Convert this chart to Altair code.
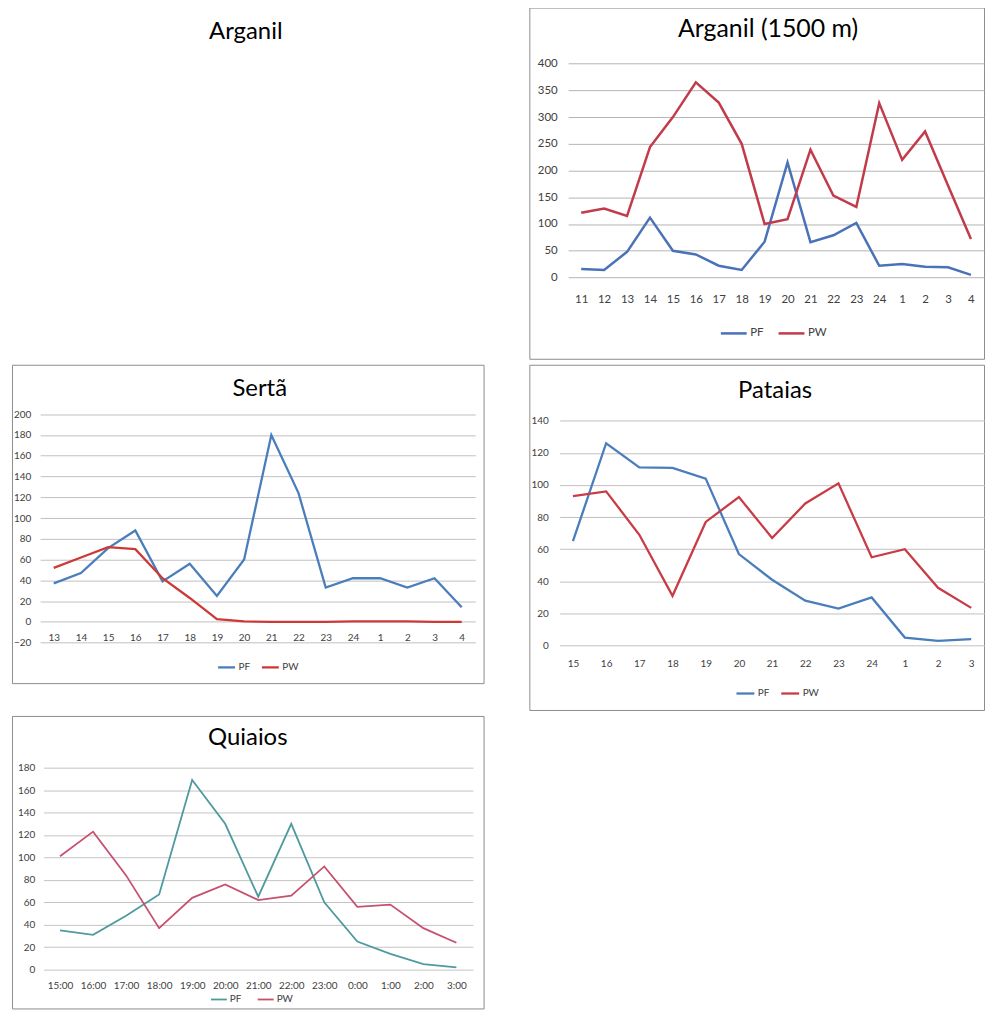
import altair as alt
import pandas as pd

# ---------------- data ----------------
arg_hours = ["11", "12", "13", "14", "15", "16", "17", "18", "19", "20", "21", "22", "23", "24", "1", "2", "3", "4"]
arg_pf = [16, 14, 48, 112, 50, 43, 22, 14, 67, 215, 66, 79, 102, 22, 25, 20, 19, 5]
arg_pw = [121, 129, 115, 244, 300, 365, 327, 250, 100, 109, 239, 153, 132, 326, 220, 273, 172, 72]

ser_hours = ["13", "14", "15", "16", "17", "18", "19", "20", "21", "22", "23", "24", "1", "2", "3", "4"]
ser_pf = [37, 47, 71, 88, 39, 56, 25, 60, 180, 124, 33, 42, 42, 33, 42, 14]
ser_pw = [52, 62, 72, 70, 42, 23, 2.5, 0.5, 0, 0, 0, 0.5, 0.5, 0.5, 0, 0]

pat_hours = ["15", "16", "17", "18", "19", "20", "21", "22", "23", "24", "1", "2", "3"]
pat_pf = [65, 126, 111, 110.7, 104, 57, 41, 28, 23, 30, 5, 3, 4]
pat_pw = [93, 96, 69, 31, 77, 92.5, 67, 88.5, 101, 55, 60, 36, 23.5]

qui_hours = ["15:00", "16:00", "17:00", "18:00", "19:00", "20:00", "21:00", "22:00", "23:00", "0:00", "1:00", "2:00", "3:00"]
qui_pf = [35, 31, 48, 67, 169, 130, 65, 130, 60, 25, 14, 5, 2]
qui_pw = [101, 123, 84, 37, 64, 76, 62, 66, 92, 56, 58, 37, 24]

series_names = ["PF", "PW"]

TITLE_FONT = "Lato"
NARROW = "'Liberation Sans Narrow', Lato"


def long_df(hours, pf, pw):
    rows = []
    for name, vals in zip(series_names, [pf, pw]):
        for i, (h, v) in enumerate(zip(hours, vals)):
            rows.append({"hour": h, "series": name, "value": v, "idx": i})
    return pd.DataFrame(rows)


def panel(title, hours, pf, pw, W, H, xr, xpad, ydom, yr, yvals, yoff, xoff,
          colors, lw, lab_font, lab_size, title_dx, title_off, title_size,
          leg_x, leg_y, sym_len, col_pad, grid_color, leg_size):
    df = long_df(hours, pf, pw)
    return alt.Chart(df).mark_line(strokeWidth=lw).encode(
        x=alt.X("hour:N",
                scale=alt.Scale(type="point", domain=hours, range=xr, padding=xpad),
                axis=alt.Axis(title=None, labelAngle=0, domain=False, ticks=False, tickSize=0,
                              labelPadding=0, labelBaseline="middle", offset=xoff, grid=False,
                              labelFont=lab_font, labelFontSize=lab_size, labelColor="#404040")),
        y=alt.Y("value:Q",
                scale=alt.Scale(domain=ydom, range=yr, nice=False, zero=False),
                axis=alt.Axis(title=None, values=yvals, domain=False, ticks=False, tickSize=0,
                              labelPadding=0, offset=yoff, grid=True, gridColor=grid_color,
                              gridWidth=1, labelFont=lab_font, labelFontSize=lab_size,
                              labelColor="#404040")),
        color=alt.Color("series:N",
                        scale=alt.Scale(domain=series_names, range=colors),
                        legend=alt.Legend(orient="none", legendX=leg_x, legendY=leg_y,
                                          direction="horizontal", title=None,
                                          symbolType="stroke", symbolSize=sym_len * sym_len,
                                          symbolStrokeWidth=lw, labelFont=lab_font,
                                          labelFontSize=leg_size, labelColor="#404040",
                                          columnPadding=col_pad, labelOffset=2, padding=0)),
        order=alt.Order("idx:Q"),
    ).properties(
        width=W, height=H,
        title=alt.TitleParams(title, offset=title_off, dx=title_dx, font=TITLE_FONT,
                              fontSize=title_size, fontWeight="normal", color="#000000",
                              anchor="middle", frame="group"),
    )


arganil_top = panel("Arganil (1500 m)", arg_hours, arg_pf, arg_pw, 457, 353,
                    [39, 457], 0.57, [0, 400], [271.3, 56.3], list(range(0, 401, 50)),
                    -28, -60, ["#4a72b8", "#c23b4b"], 2.5, "Lato", 11.5, 11.5, -35, 25,
                    191, 313, 26, 9, "#b4b4b4", 11.5)

serta = panel("Sertã", ser_hours, ser_pf, ser_pw, 474, 320,
              [28.3, 465.7], 0.5, [-20, 200], [279.3, 49.7], list(range(-20, 201, 20)),
              -19, -46.3, ["#4a7ebb", "#cc3a38"], 2.3, NARROW, 10, 12, -36, 24,
              205.7, 294.2, 17, 6, "#bfbfbf", 10)

pataias = panel("Pataias", pat_hours, pat_pf, pat_pw, 457, 347,
                [30.5, 457.5], 0.4, [0, 140], [282.3, 56.3], list(range(0, 141, 20)),
                -19, -46.7, ["#4a7ebb", "#c83c46"], 2.3, NARROW, 10, 18.5, -38, 24,
                206.7, 319.7, 18, 6, "#bfbfbf", 10)

quiaios = panel("Quiaios", qui_hours, qui_pf, qui_pw, 474, 294,
                [31.7, 463.3], 0.5, [0, 180], [255, 52], list(range(0, 181, 20)),
                -23, -23, ["#4e9a9e", "#c6506e"], 1.8, NARROW, 10, 0, -34, 24,
                199, 276, 16, 12, "#c4c4c4", 10)

empty = alt.Chart(pd.DataFrame({"v": [0]})).mark_point(opacity=0, size=1).encode(
    x=alt.value(237),
    y=alt.value(174),
).properties(
    width=474, height=353,
    view=alt.ViewBackground(stroke="transparent"),
    title=alt.TitleParams("Arganil", offset=-37, dx=-2, font=TITLE_FONT, fontSize=24,
                          fontWeight="normal", color="#000000", anchor="middle", frame="group"),
)


def build(top_pad):
    return alt.concat(
        empty, arganil_top, serta, pataias, quiaios,
        columns=2,
        spacing=alt.RowColnumber(row=6, column=46),
        bounds="flush",
    ).resolve_scale(
        x="independent", y="independent", color="independent"
    ).properties(
        padding={"left": 3, "top": top_pad, "right": 0, "bottom": 0},
        background="#ffffff",
    ).configure_view(stroke="#8c8c8c", strokeWidth=1)


chart = build(-4)
try:
    chart.to_dict()
except Exception:
    chart = build(0)

chart.save("out.html", embed_options={"renderer": "svg", "actions": False})
